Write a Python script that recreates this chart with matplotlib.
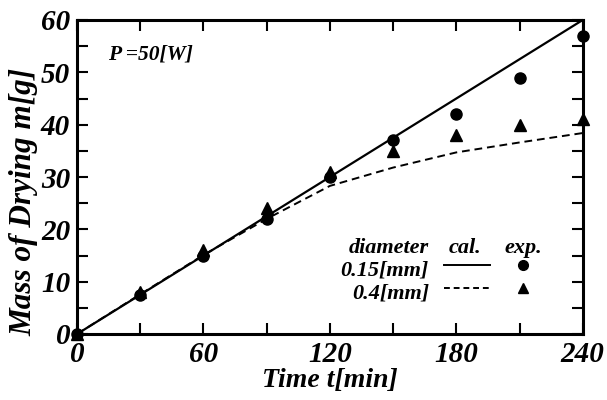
import matplotlib
matplotlib.use("Agg")
import matplotlib.pyplot as plt
from matplotlib.ticker import MultipleLocator

# calculated curves
t_cal = [0, 30, 60, 90, 120, 150, 180, 210, 240]
cal_015 = [0, 7.5, 15, 22.5, 30, 37.5, 45, 52.5, 60]
cal_04 = [0, 7.6, 15.1, 22.0, 28.3, 31.8, 34.7, 36.6, 38.4]

# experimental points
t_exp = [0, 30, 60, 90, 120, 150, 180, 210, 240]
exp_015 = [0, 7.5, 15, 22, 30, 37, 42, 49, 57]
exp_04 = [0, 8, 16, 24, 31, 35, 38, 40, 41]

plt.rcParams['font.family'] = ['Liberation Serif', 'DejaVu Serif']
bi = dict(fontweight='bold', fontstyle='italic')

fig = plt.figure(figsize=(6.07, 4.0), dpi=100)
ax = fig.add_axes([0.127, 0.165, 0.833, 0.785])

ax.plot(t_cal, cal_015, color='black', lw=1.6, ls='-')
ax.plot(t_cal, cal_04, color='black', lw=1.4, ls=(0, (4, 2.5)))
ax.plot(t_exp, exp_015, 'o', color='black', ms=8, clip_on=False)
ax.plot(t_exp, exp_04, '^', color='black', ms=8, clip_on=False)

ax.set_xlim(0, 240)
ax.set_ylim(0, 60)
ax.xaxis.set_major_locator(MultipleLocator(60))
ax.xaxis.set_minor_locator(MultipleLocator(30))
ax.yaxis.set_major_locator(MultipleLocator(10))
ax.yaxis.set_minor_locator(MultipleLocator(5))
ax.tick_params(which='both', direction='in', top=True, right=True,
               length=8, width=1.5, labelsize=21, pad=5)
for lab in ax.get_xticklabels() + ax.get_yticklabels():
    lab.set_fontweight('bold')
    lab.set_fontstyle('italic')
for s in ax.spines.values():
    s.set_linewidth(2.2)

ax.set_xlabel('Time t[min]', fontsize=20, labelpad=0, **bi)
ax.set_ylabel('Mass of Drying m[g]', fontsize=22.5, **bi)
ax.yaxis.set_label_coords(-0.077, 0.42)

ax.text(14.7, 52.4, 'P =50[W]', fontsize=15.5, **bi)

# legend table
fs = 16
ax.text(167, 15.5, 'diameter', fontsize=fs, ha='right', **bi)
ax.text(184, 15.5, 'cal.', fontsize=fs, ha='center', **bi)
ax.text(212, 15.5, 'exp.', fontsize=fs, ha='center', **bi)
ax.text(167, 11.2, '0.15[mm]', fontsize=fs, ha='right', **bi)
ax.text(167, 6.8, '0.4[mm]', fontsize=fs, ha='right', **bi)
ax.plot([174, 196], [13.2, 13.2], color='black', lw=1.4)
ax.plot([174, 196], [8.8, 8.8], color='black', lw=1.4, ls=(0, (3, 2)))
ax.plot([211.5], [13.2], 'o', color='black', ms=7)
ax.plot([211.5], [8.8], '^', color='black', ms=7)

fig.savefig('out.png', dpi=100)
